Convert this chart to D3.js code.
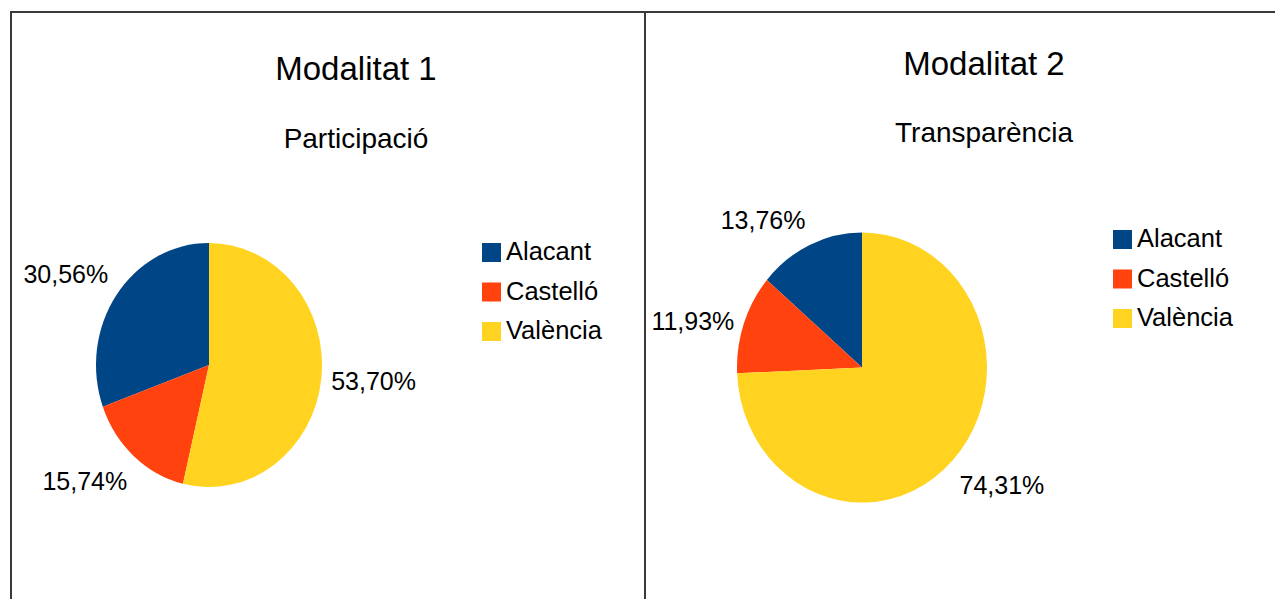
<!DOCTYPE html>
<html>
<head>
<meta charset="utf-8">
<script src="https://cdn.jsdelivr.net/npm/d3@7"></script>
<style>
  html, body { margin: 0; padding: 0; background: #fff; }
  svg { display: block; font-family: "Liberation Sans", Arial, sans-serif; }
</style>
</head>
<body>
<svg id="chart" width="1275" height="599"></svg>
<script>
const categories = ["Alacant", "Castelló", "València"];
const colors = ["#004586", "#ff420e", "#ffd320"];
const titles = ["Modalitat 1", "Modalitat 2"];
const subtitles = ["Participació", "Transparència"];
const values1 = [30.56, 15.74, 53.70];
const values2 = [13.76, 11.93, 74.31];

(() => {
  const svg = d3.select("#chart");
  const SY = 1.08; // pies are a little stretched vertically
  const fmt = v => d3.format(".2f")(v).replace(".", ",") + "%";

  // panel frames
  svg.append("rect").attr("x", 11).attr("y", 12).attr("width", 634).attr("height", 700)
    .attr("fill", "none").attr("stroke", "#3a3a3a").attr("stroke-width", 2);
  svg.append("rect").attr("x", 645).attr("y", 12).attr("width", 700).attr("height", 700)
    .attr("fill", "none").attr("stroke", "#3a3a3a").attr("stroke-width", 2);

  function txt(x, y, s, size, anchor) {
    return svg.append("text")
      .attr("x", x).attr("y", y)
      .attr("text-anchor", anchor || "start")
      .attr("font-size", size)
      .attr("fill", "#000")
      .text(s);
  }

  function drawPanel(p, values) {
    txt(p.tx, p.titleY, p.title, 33, "middle");
    txt(p.tx, p.subY, p.sub, 28, "middle");

    const pie = d3.pie().sort(null).startAngle(0).endAngle(-2 * Math.PI);
    const arcs = pie(values);
    const arc = d3.arc().innerRadius(0).outerRadius(p.r);

    const g = svg.append("g").attr("transform", `translate(${p.cx},${p.cy}) scale(1,${SY})`);
    g.selectAll("path").data(arcs).join("path")
      .attr("d", arc)
      .attr("fill", (d, i) => colors[i]);

    // value labels outside each slice
    arcs.forEach(d => {
      const a = (d.startAngle + d.endAngle) / 2;
      const dx = Math.sin(a), dy = -Math.cos(a);
      const px = p.cx + dx * (p.r + 10);
      const py = p.cy + dy * (p.r + 10) * SY;
      const anchor = dx > 0.2 ? "start" : dx < -0.2 ? "end" : "middle";
      const by = dy > 0.5 ? py + 26 : dy < -0.5 ? py - 6 : py + 10;
      txt(px, by, fmt(d.data), 25, anchor);
    });

    // legend
    categories.forEach((c, i) => {
      const y = p.legY + i * 39.5;
      svg.append("rect").attr("x", p.legX).attr("y", y - 17).attr("width", 19).attr("height", 19)
        .attr("fill", colors[i]);
      txt(p.legX + 24, y, c, 25.5, "start");
    });
  }

  drawPanel({ title: titles[0], sub: subtitles[0], tx: 356, titleY: 80, subY: 148,
              cx: 209, cy: 365, r: 113, legX: 482, legY: 260 }, values1);
  drawPanel({ title: titles[1], sub: subtitles[1], tx: 984, titleY: 75, subY: 142,
              cx: 862, cy: 367.5, r: 125, legX: 1113, legY: 247 }, values2);
})();
</script>
</body>
</html>
